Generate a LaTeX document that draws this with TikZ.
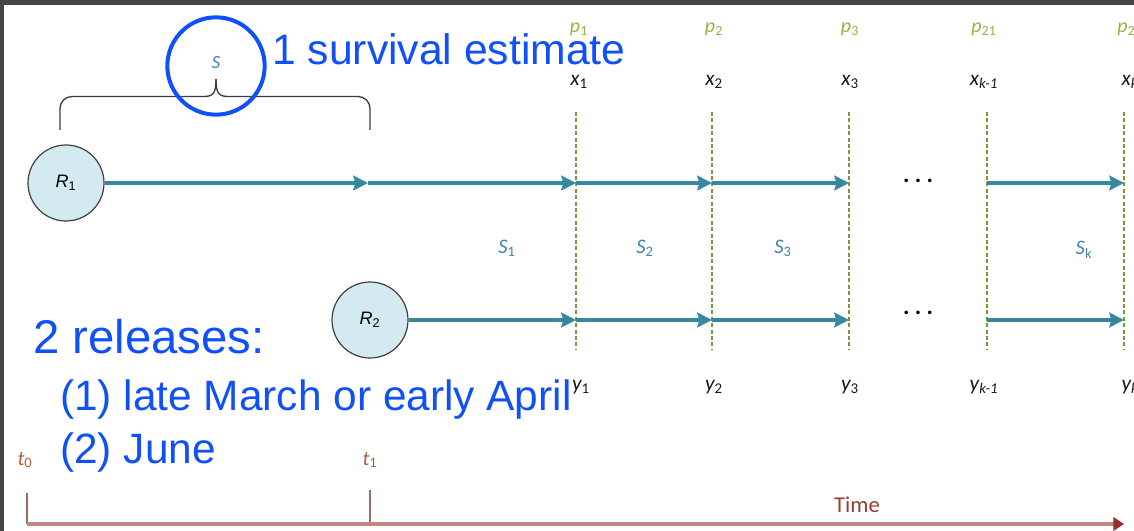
\documentclass[tikz,border=0pt]{standalone}
\usepackage{fontspec}
\setmainfont{Carlito}
\newfontfamily\arialfont{Liberation Sans}
\usetikzlibrary{arrows.meta}
\definecolor{teal1}{RGB}{55,135,158}
\definecolor{dotgreen}{RGB}{119,150,62}
\definecolor{plab}{RGB}{165,172,70}
\definecolor{slab}{RGB}{70,130,170}
\definecolor{tlab}{RGB}{180,95,60}
\definecolor{timeline}{RGB}{195,135,130}
\definecolor{timetip}{RGB}{150,50,45}
\definecolor{bluetxt}{RGB}{15,80,250}
\definecolor{circfill}{RGB}{210,234,240}
\definecolor{framegray}{RGB}{70,70,70}
\definecolor{bracegray}{RGB}{60,60,60}
\newcommand{\sub}[1]{\textsubscript{\upshape #1}}
\begin{document}
\begin{tikzpicture}[x=0.75pt,y=-0.75pt,
  release/.style={circle,draw=black!75,line width=0.9pt,fill=circfill,minimum size=57pt,inner sep=0pt,font=\arialfont\itshape\fontsize{13.5}{15}\selectfont},
  flow/.style={draw=teal1,line width=2.3pt,-{Stealth[length=11pt,width=11pt,inset=1.5pt]}},
  census/.style={draw=dotgreen,line width=2.2pt,dash pattern=on 3pt off 1.8pt},
  plabel/.style={font=\itshape\fontsize{15}{17}\selectfont,text=plab,inner sep=0pt},
  xlabel/.style={font=\itshape\fontsize{16}{18}\selectfont,text=black!90,inner sep=0pt},
  slabel/.style={font=\itshape\fontsize{15.5}{17}\selectfont,text=slab,inner sep=0pt},
  tlabel/.style={font=\itshape\fontsize{15.5}{17}\selectfont,text=tlab,inner sep=0pt},
  moredots/.style={font=\bfseries\fontsize{18}{20}\selectfont,inner sep=0pt},
  bluetext/.style={font=\arialfont\fontsize{31.8}{36}\selectfont,text=bluetxt,anchor=base west,inner sep=0pt},
  brace/.style={draw=bracegray,line width=1pt},
  axis/.style={draw=timeline,line width=2.4pt},
  tick/.style={draw=timeline!80!black,line width=1.1pt},
]
\useasboundingbox (0,0) rectangle (1134,531);
\fill[framegray] (0,0) rectangle (1134,531);
\fill[white] (4,5) rectangle (1134,531);
\clip (4,5) rectangle (1134,531);

% release circles
\node[release] (R1) at (66,183) {R\sub{1}};
\node[release] (R2) at (370,320) {R\sub{2}};

% census columns
\foreach \i/\xx in {1/576,2/712,3/849,4/987,5/1124}{
  \coordinate (top\i) at (\xx,112);
  \coordinate (bot\i) at (\xx,349);
  \coordinate (a\i) at (\xx,183);
  \coordinate (b\i) at (\xx,320);
}
\foreach \i in {1,...,5}{\draw[census] (top\i) -- (bot\i);}

% top flow
\coordinate (mid) at (368,183);
\draw[flow] (R1) -- (mid);
\draw[flow] (mid) -- (a1);
\draw[flow] (a1) -- (a2);
\draw[flow] (a2) -- (a3);
\draw[flow] (a4) -- (a5);
% bottom flow
\draw[flow] (R2) -- (b1);
\draw[flow] (b1) -- (b2);
\draw[flow] (b2) -- (b3);
\draw[flow] (b4) -- (b5);
\node[moredots] (dots1) at (918,181) {.\hspace{4pt}.\hspace{4pt}.};
\node[moredots] (dots2) at (918,313) {.\hspace{4pt}.\hspace{4pt}.};

% p labels
\node[plabel] (p1) at (579,29) {p\sub{1}};
\node[plabel] (p2) at (714,29) {p\sub{2}};
\node[plabel] (p3) at (850,29) {p\sub{3}};
\node[plabel] (p21) at (984,29) {p\sub{21}};
\node[plabel] (p22) at (1130,29) {p\sub{22}};
% x labels
\node[xlabel] (x1) at (579,82) {x\sub{1}};
\node[xlabel] (x2) at (714,82) {x\sub{2}};
\node[xlabel] (x3) at (850,82) {x\sub{3}};
\node[xlabel] (xk1) at (984,82) {x\textsubscript{k-1}};
\node[xlabel] (xk) at (1130,82) {x\textsubscript{k}};
% y labels
\node[xlabel] (y1) at (581,387) {y\sub{1}};
\node[xlabel] (y2) at (714,387) {y\sub{2}};
\node[xlabel] (y3) at (850,387) {y\sub{3}};
\node[xlabel] (yk1) at (984,387) {y\textsubscript{k-1}};
\node[xlabel] (yk) at (1130,387) {y\textsubscript{k}};
% survival labels
\node[slabel] (S1) at (507,248) {S\sub{1}};
\node[slabel] (S2) at (645,248) {S\sub{2}};
\node[slabel] (S3) at (783,248) {S\sub{3}};
\node[slabel] (Sk) at (1084,250) {S\sub{k}};

% bracket
\coordinate (brL) at (60,130);
\coordinate (brR) at (370,130);
\coordinate (brTip) at (216,79);
\draw[brace,rounded corners=9] (brL) -- (60,96.5) -- (203,96.5);
\draw[brace] (203,96.5) .. controls (213,96.5) and (216,94) .. (brTip);
\draw[brace,rounded corners=9] (brR) -- (370,96.5) -- (229,96.5);
\draw[brace] (229,96.5) .. controls (219,96.5) and (216,94) .. (brTip);
\node[slabel,font=\itshape\fontsize{14}{15}\selectfont] (S) at (216,63) {S};
\node[circle,draw=bluetxt,line width=3pt,minimum size=73pt,inner sep=0pt] (hl) at (216,66) {};

% blue annotations
\node[bluetext,font=\arialfont\fontsize{32}{36}\selectfont] (est) at (272,65) {1 survival estimate};
\node[bluetext,font=\arialfont\fontsize{35.5}{40}\selectfont] (rel) at (33,353) {2 releases:};
\node[bluetext] (rel1) at (60,410) {(1) late March or early April};
\node[bluetext] (rel2) at (60,463) {(2) June};

% time axis
\node[tlabel] (t0) at (25,460) {t\sub{0}};
\node[tlabel] (t1) at (370,460) {t\sub{1}};
\coordinate (ax0) at (27,524);
\coordinate (ax0top) at (27,493);
\coordinate (ax1) at (370,524);
\coordinate (ax1top) at (370,490);
\coordinate (axend) at (1124,524);
\draw[tick] (ax0top) -- (ax0);
\draw[tick] (ax1top) -- (ax1);
\draw[axis,-{Triangle[length=8pt,width=10pt,color=timetip]}] (ax0) -- (axend);
\node[font=\fontsize{17}{19}\selectfont,text=timetip!90!timeline,inner sep=0pt] (time) at (857,505) {Time};
\end{tikzpicture}
\end{document}
